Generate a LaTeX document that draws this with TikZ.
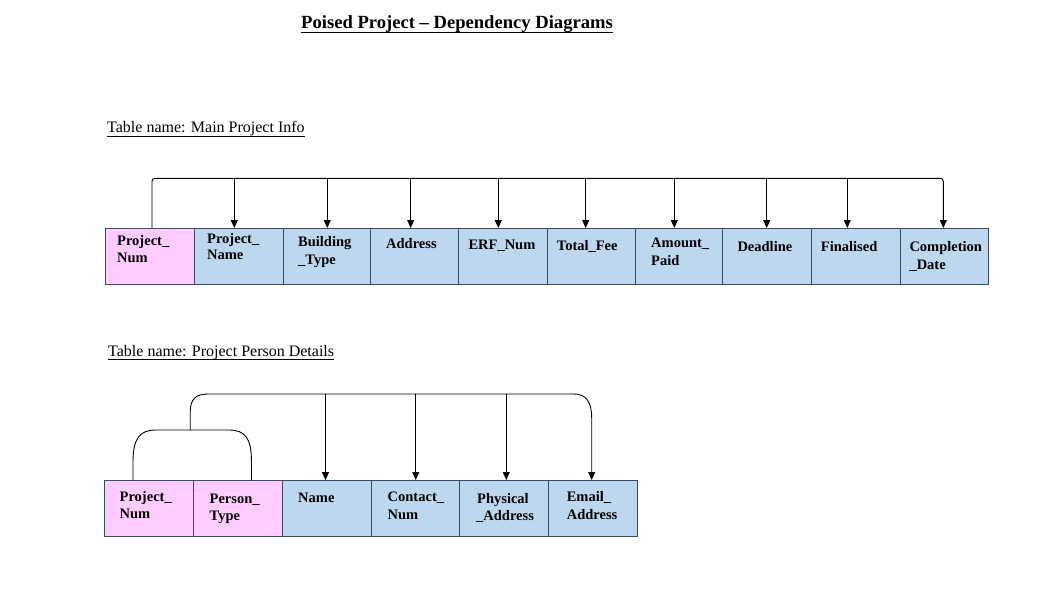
\documentclass[tikz,border=0pt]{standalone}
\usepackage{fontspec}
\setmainfont{Liberation Serif}
\usetikzlibrary{arrows.meta,calc}
\definecolor{pinkcell}{HTML}{FFCCFF}
\definecolor{bluecell}{HTML}{BDD7EE}
\definecolor{cellborder}{HTML}{3A4B66}
\tikzset{
  cellbox/.style={draw=cellborder,line width=0.8pt,inner sep=0pt,anchor=north west},
  celltext/.style={inner sep=0pt,anchor=base west,font=\fontsize{14.5}{17}\selectfont\bfseries},
  labeltext/.style={inner sep=0pt,anchor=base west,font=\fontsize{16}{19}\selectfont},
  titletext/.style={inner sep=0pt,anchor=base west,font=\fontsize{18.6}{22}\selectfont\bfseries},
  uline/.style={line width=0.8pt},
  conn/.style={line width=0.9pt},
  dep/.style={conn,-{Triangle[length=8pt,width=7pt]}}
}
\begin{document}
\begin{tikzpicture}[x=1pt,y=-1pt]
\useasboundingbox (0,0) rectangle (1053,597);
% title and labels
\node[titletext] (title) at (301,28.5) {Poised Project -- Dependency Diagrams};
\draw[uline] ($(title.base west)+(0,3.8)$) -- ($(title.base east)+(0,3.8)$);
\node[labeltext] (lab1) at (107,132.5) {Table name: Main Project Info};
\draw[uline] ($(lab1.base west)+(0,3.4)$) -- ($(lab1.base east)+(0,3.4)$);
\node[labeltext] (lab2) at (108,356) {Table name: Project Person Details};
\draw[uline] ($(lab2.base west)+(0,3.4)$) -- ($(lab2.base east)+(0,3.4)$);

% ---------- top table ----------
\node[cellbox,fill=pinkcell,minimum width=89pt,minimum height=56pt] (m1) at (105,228) {};
\node[cellbox,fill=bluecell,minimum width=89pt,minimum height=56pt] (m2) at (194,228) {};
\node[cellbox,fill=bluecell,minimum width=87pt,minimum height=56pt] (m3) at (283,228) {};
\node[cellbox,fill=bluecell,minimum width=88pt,minimum height=56pt] (m4) at (370,228) {};
\node[cellbox,fill=bluecell,minimum width=89pt,minimum height=56pt] (m5) at (458,228) {};
\node[cellbox,fill=bluecell,minimum width=88pt,minimum height=56pt] (m6) at (547,228) {};
\node[cellbox,fill=bluecell,minimum width=87pt,minimum height=56pt] (m7) at (635,228) {};
\node[cellbox,fill=bluecell,minimum width=89pt,minimum height=56pt] (m8) at (722,228) {};
\node[cellbox,fill=bluecell,minimum width=89pt,minimum height=56pt] (m9) at (811,228) {};
\node[cellbox,fill=bluecell,minimum width=88pt,minimum height=56pt] (m10) at (900,228) {};

\node[celltext] (m1a) at (117,245.5) {Project\_};
\node[celltext] (m1b) at (117,262) {Num};
\node[celltext] (m2a) at (207,243.3) {Project\_};
\node[celltext] (m2b) at (207,259.8) {Name};
\node[celltext] (m3a) at (298,246.7) {Building};
\node[celltext] (m3b) at (298,264) {\_Type};
\node[celltext] (m4a) at (386,248.3) {Address};
\node[celltext] (m5a) at (468.3,249.3) {ERF\_Num};
\node[celltext] (m6a) at (556.7,250) {Total\_Fee};
\node[celltext] (m7a) at (651,247.3) {Amount\_};
\node[celltext] (m7b) at (651,265) {Paid};
\node[celltext] (m8a) at (737.3,251) {Deadline};
\node[celltext] (m9a) at (820.7,251.7) {Finalised};
\node[celltext] (m10a) at (909.3,251.7) {Completion};
\node[celltext] (m10b) at (909.3,269.3) {\_Date};

% top connectors
\coordinate (ms) at (152,228);
\coordinate (mt) at (152,178.3);
\coordinate (mr) at (943.3,178.3);
\coordinate (me) at (943.3,228);
\draw[dep,rounded corners=3pt] (ms) -- (mt) -- (mr) -- (me);
\foreach \xx/\nm in {234.3/a2,327.3/a3,410.7/a4,498.3/a5,585.7/a6,674.3/a7,766.7/a8,847.3/a9}{
  \coordinate (\nm) at (\xx,228);
  \draw[dep] (\nm |- mt) -- (\nm);
}

% ---------- bottom table ----------
\node[cellbox,fill=pinkcell,minimum width=89pt,minimum height=56pt] (p1) at (104,480) {};
\node[cellbox,fill=pinkcell,minimum width=89pt,minimum height=56pt] (p2) at (193,480) {};
\node[cellbox,fill=bluecell,minimum width=89pt,minimum height=56pt] (p3) at (282,480) {};
\node[cellbox,fill=bluecell,minimum width=88pt,minimum height=56pt] (p4) at (371,480) {};
\node[cellbox,fill=bluecell,minimum width=89pt,minimum height=56pt] (p5) at (459,480) {};
\node[cellbox,fill=bluecell,minimum width=89pt,minimum height=56pt] (p6) at (548,480) {};

\node[celltext] (p1a) at (119.5,501.5) {Project\_};
\node[celltext] (p1b) at (119.5,518.5) {Num};
\node[celltext] (p2a) at (209.5,503) {Person\_};
\node[celltext] (p2b) at (209.5,520.5) {Type};
\node[celltext] (p3a) at (298,502) {Name};
\node[celltext] (p4a) at (387.5,501) {Contact\_};
\node[celltext] (p4b) at (387.5,519) {Num};
\node[celltext] (p5a) at (477,503) {Physical};
\node[celltext] (p5b) at (476,520.5) {\_Address};
\node[celltext] (p6a) at (566.6,501) {Email\_};
\node[celltext] (p6b) at (566.6,519) {Address};

% bottom connectors
\coordinate (k1) at (133,480);
\coordinate (k2) at (251.5,480);
\coordinate (kt) at (190.2,430);
\draw[conn] (k1) -- (133,462) .. controls (133,438) and (140,430) .. (156,430)
  -- (229,430) .. controls (245,430) and (251.5,438) .. (251.5,462) -- (k2);
\coordinate (bt) at (190.2,394);
\coordinate (be) at (591.7,480);
\draw[dep] (kt) -- (190.2,412) .. controls (190.2,399) and (196,394) .. (208,394)
  -- (574,394) .. controls (586,394) and (591.7,402) .. (591.7,418) -- (be);
\foreach \xx/\nm in {325.5/b3,415.8/b4,506.3/b5}{
  \coordinate (\nm) at (\xx,480);
  \draw[dep] (\nm |- bt) -- (\nm);
}
\end{tikzpicture}
\end{document}
